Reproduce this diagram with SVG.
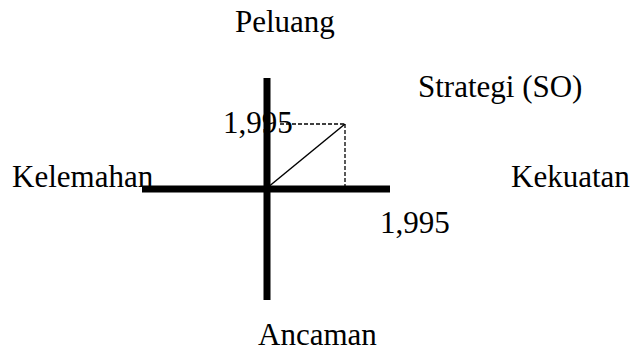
<svg xmlns="http://www.w3.org/2000/svg" width="632" height="351" viewBox="0 0 632 351">
<style>
.t{font-family:"Liberation Serif","Times New Roman",serif;font-size:31px;fill:#000}
.axis{stroke:#000;stroke-width:7;fill:none}
.dash{stroke:#000;stroke-width:1.3;stroke-dasharray:4 2;fill:none}
.vec{stroke:#000;stroke-width:1.5;fill:none}
</style>
<rect width="632" height="351" fill="#fff"/>
<g id="connectors">
<line class="axis" x1="142" y1="189" x2="390" y2="189"/>
<line class="axis" x1="267" y1="78" x2="267" y2="300"/>
<line class="dash" x1="280" y1="124" x2="345" y2="124"/>
<line class="dash" x1="345" y1="124" x2="345" y2="187"/>
<line class="vec" x1="267" y1="188" x2="345" y2="124"/>
</g>
<g id="peluang"><text class="t" x="235" y="32">Peluang</text></g>
<g id="strategi"><text class="t" x="418" y="97">Strategi (SO)</text></g>
<g id="kelemahan"><text class="t" x="12" y="187">Kelemahan</text></g>
<g id="kekuatan"><text class="t" x="511" y="187">Kekuatan</text></g>
<g id="ancaman"><text class="t" x="258" y="345">Ancaman</text></g>
<g id="val-y"><text class="t" x="223" y="133">1,995</text></g>
<g id="val-x"><text class="t" x="380" y="233">1,995</text></g>
</svg>
